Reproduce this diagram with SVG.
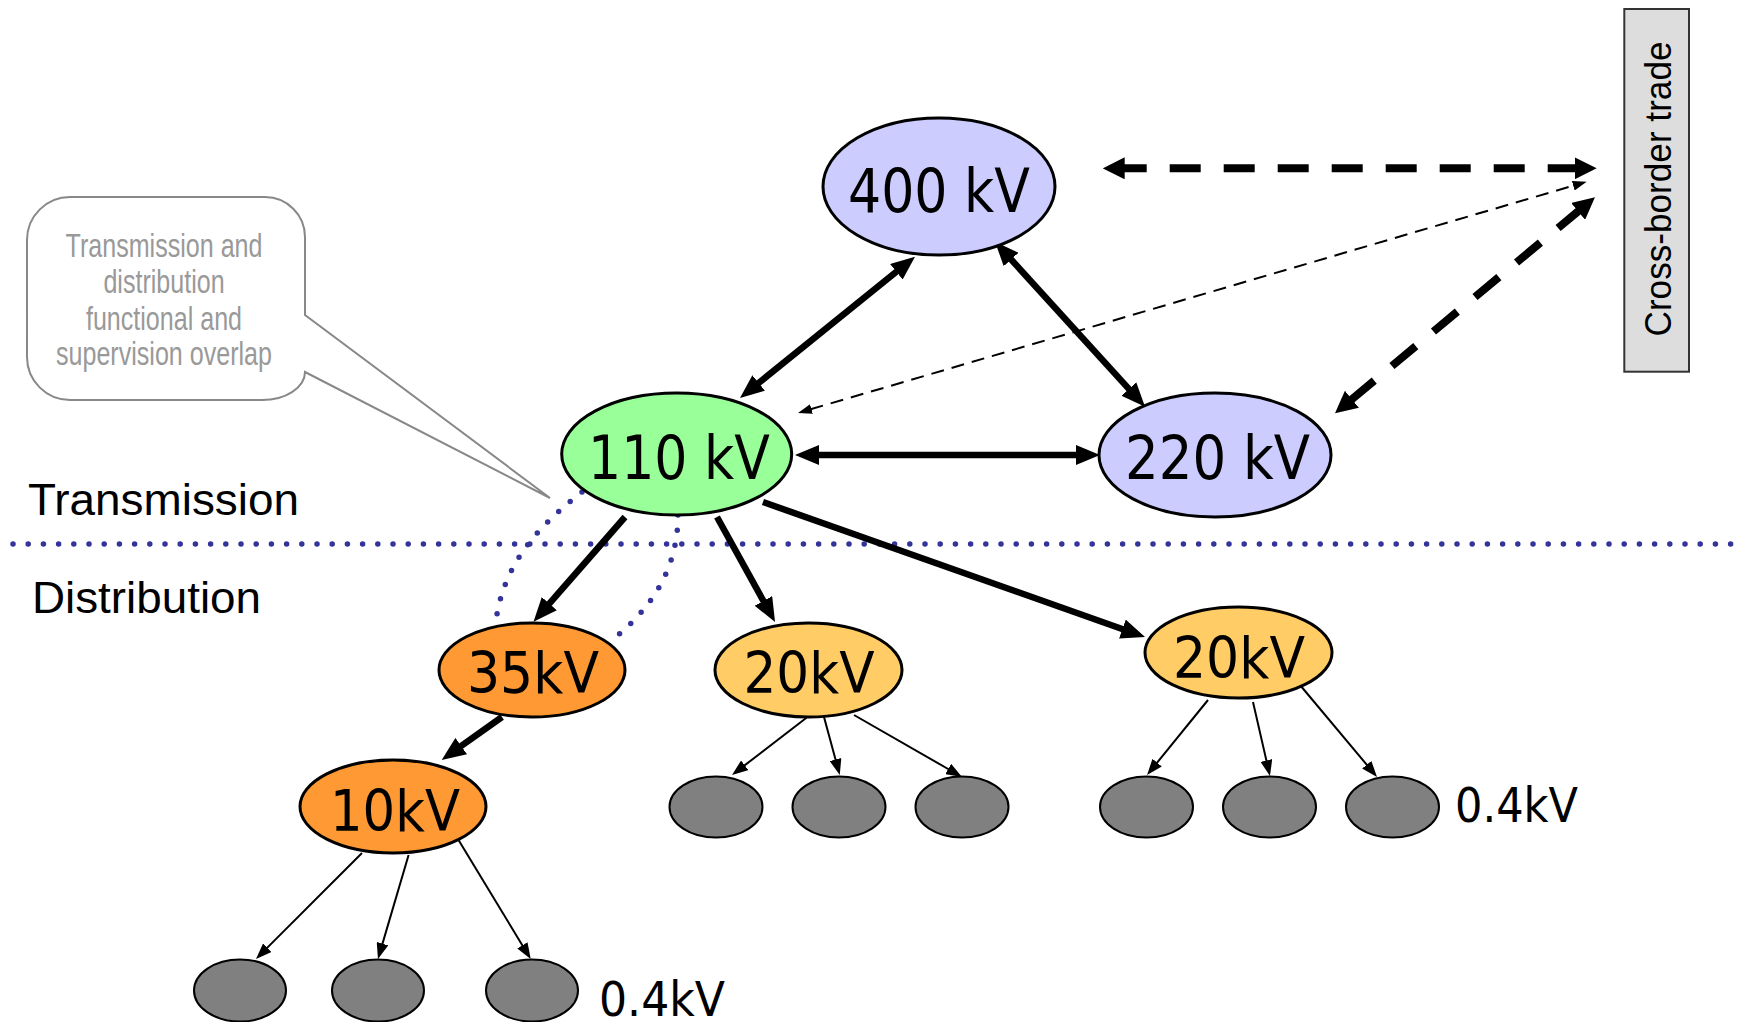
<svg xmlns="http://www.w3.org/2000/svg" width="1744" height="1022" viewBox="0 0 1744 1022">
<defs>
<style>
.lbl{font-family:"DejaVu Sans",Verdana,sans-serif;fill:#000}
.big{font-size:60px}
.mid{font-size:57px}
.sm{font-size:48px}
.sec{font-family:"Liberation Sans",Arial,sans-serif;font-size:45px;fill:#000}
.note{font-family:"Liberation Sans",Arial,sans-serif;font-size:33px;fill:#999999}
.hv{stroke:#000;stroke-width:3}
.leaf{fill:#808080;stroke:#000;stroke-width:2}
.thick{stroke:#000;stroke-width:6.5;fill:none}
.thin{stroke:#000;stroke-width:2;fill:none}
.dthick{stroke:#000;stroke-width:8;fill:none;stroke-dasharray:31 23}
.dthin{stroke:#000;stroke-width:2;fill:none;stroke-dasharray:13 8}
.dots{stroke:#333399;stroke-width:5.5;stroke-linecap:round;stroke-dasharray:0 15.2;fill:none}
</style>
<marker id="ah" markerUnits="userSpaceOnUse" markerWidth="24" markerHeight="20" refX="2" refY="10" orient="auto-start-reverse" viewBox="0 0 24 20"><path d="M0,0 L24,10 L0,20 z" fill="#000"/></marker>
<marker id="ahd" markerUnits="userSpaceOnUse" markerWidth="22" markerHeight="22" refX="2" refY="11" orient="auto-start-reverse" viewBox="0 0 22 22"><path d="M0,0 L22,11 L0,22 z" fill="#000"/></marker>
<marker id="ahs" markerUnits="userSpaceOnUse" markerWidth="16" markerHeight="12" refX="1" refY="6" orient="auto-start-reverse" viewBox="0 0 16 12"><path d="M0,0 L16,6 L0,12 z" fill="#000"/></marker>
<marker id="aht" markerUnits="userSpaceOnUse" markerWidth="14" markerHeight="10" refX="1" refY="5" orient="auto-start-reverse" viewBox="0 0 14 10"><path d="M0,0 L14,5 L0,10 z" fill="#000"/></marker>
</defs>
<rect width="1744" height="1022" fill="#fff"/>

<g id="boundary">
<line class="dots" x1="13" y1="544" x2="1744" y2="544"/>
<path class="dots" d="M582,492 C540,525 500,565 495,630"/>
<path class="dots" d="M678,515 C678,570 650,610 612,640"/>
<text class="sec" x="28" y="515" textLength="271" lengthAdjust="spacingAndGlyphs">Transmission</text>
<text class="sec" x="32" y="613" textLength="229" lengthAdjust="spacingAndGlyphs">Distribution</text>
</g>

<g id="callout">
<path d="M70,197 H265 A40,40 0 0 1 305,237 V315 L550,498 L305,372 A43,28 0 0 1 262,400 H70 A43,43 0 0 1 27,357 V240 A43,43 0 0 1 70,197 Z" fill="#fff" stroke="#888" stroke-width="2"/>
<g transform="translate(164,0) scale(0.76,1)">
<text class="note" x="0" y="257" text-anchor="middle">Transmission and</text>
<text class="note" x="0" y="293" text-anchor="middle">distribution</text>
<text class="note" x="0" y="330" text-anchor="middle">functional and</text>
<text class="note" x="0" y="365" text-anchor="middle">supervision overlap</text>
</g>
</g>

<g id="connectors">
<line class="thick" x1="757.1" y1="384.2" x2="897.9" y2="270.5" marker-start="url(#ah)" marker-end="url(#ah)"/>
<line class="thick" x1="1009.8" y1="258" x2="1130.2" y2="390.4" marker-start="url(#ah)" marker-end="url(#ah)"/>
<line class="thick" x1="817" y1="455" x2="1078" y2="455" marker-start="url(#ah)" marker-end="url(#ah)"/>
<line class="thick" x1="625" y1="517" x2="548" y2="605.1" marker-end="url(#ah)"/>
<line class="thick" x1="717" y1="517" x2="764.4" y2="602.7" marker-end="url(#ah)"/>
<line class="thick" x1="763" y1="502" x2="1124.3" y2="629.7" marker-end="url(#ah)"/>
<line class="thick" x1="502" y1="717" x2="459.6" y2="747.2" marker-end="url(#ah)"/>
<line class="dthin" x1="810.5" y1="409.3" x2="1574.2" y2="185.4" marker-start="url(#aht)" marker-end="url(#aht)"/>
<line class="dthick" x1="1122.7" y1="168.3" x2="1576.7" y2="168.3" stroke-dashoffset="7" marker-start="url(#ahd)" marker-end="url(#ahd)"/>
<line class="dthick" x1="1350.4" y1="400.5" x2="1579.6" y2="210.1" marker-start="url(#ahd)" marker-end="url(#ahd)"/>
<line class="thin" x1="806.5" y1="717.7" x2="743.9" y2="765.9" marker-end="url(#ahs)"/>
<line class="thin" x1="824" y1="717" x2="835.8" y2="760.5" marker-end="url(#ahs)"/>
<line class="thin" x1="854" y1="715" x2="949" y2="769.5" marker-end="url(#ahs)"/>
<line class="thin" x1="1208" y1="700" x2="1156.5" y2="763.4" marker-end="url(#ahs)"/>
<line class="thin" x1="1253" y1="702" x2="1266.6" y2="761.4" marker-end="url(#ahs)"/>
<line class="thin" x1="1300" y1="685" x2="1367.4" y2="765.5" marker-end="url(#ahs)"/>
<line class="thin" x1="362" y1="853" x2="266.6" y2="948.4" marker-end="url(#ahs)"/>
<line class="thin" x1="408.6" y1="855" x2="382.2" y2="944.6" marker-end="url(#ahs)"/>
<line class="thin" x1="456.7" y1="837" x2="522.9" y2="946.2" marker-end="url(#ahs)"/>
</g>

<g id="n400">
<ellipse class="hv" cx="939" cy="186.5" rx="116" ry="68.5" fill="#ccccff"/>
<text class="lbl big" x="848" y="212" textLength="182" lengthAdjust="spacingAndGlyphs">400 kV</text>
</g>
<g id="n110">
<ellipse class="hv" cx="676.7" cy="454" rx="115" ry="61" fill="#99ff99"/>
<text class="lbl big" x="588" y="479" textLength="182" lengthAdjust="spacingAndGlyphs">110 kV</text>
</g>
<g id="n220">
<ellipse class="hv" cx="1215" cy="455" rx="116" ry="62" fill="#ccccff"/>
<text class="lbl big" x="1125" y="479" textLength="185" lengthAdjust="spacingAndGlyphs">220 kV</text>
</g>
<g id="n35">
<ellipse class="hv" cx="532" cy="670" rx="93" ry="47" fill="#ff9933"/>
<text class="lbl mid" x="467" y="693" textLength="132" lengthAdjust="spacingAndGlyphs">35kV</text>
</g>
<g id="n20a">
<ellipse class="hv" cx="808.5" cy="670" rx="93.5" ry="47" fill="#ffcc66"/>
<text class="lbl mid" x="743.5" y="693" textLength="131" lengthAdjust="spacingAndGlyphs">20kV</text>
</g>
<g id="n20b">
<ellipse class="hv" cx="1238.5" cy="652.5" rx="93.5" ry="45.5" fill="#ffcc66"/>
<text class="lbl mid" x="1173" y="678" textLength="132" lengthAdjust="spacingAndGlyphs">20kV</text>
</g>
<g id="n10">
<ellipse class="hv" cx="393" cy="806.5" rx="93" ry="46.5" fill="#ff9933"/>
<text class="lbl mid" x="330" y="830.5" textLength="130" lengthAdjust="spacingAndGlyphs">10kV</text>
</g>

<g id="leaves20a">
<ellipse class="leaf" cx="716" cy="807" rx="46.5" ry="30.5"/>
<ellipse class="leaf" cx="839" cy="807" rx="46.5" ry="30.5"/>
<ellipse class="leaf" cx="962" cy="807" rx="46.5" ry="30.5"/>
</g>
<g id="leaves20b">
<ellipse class="leaf" cx="1146.5" cy="807" rx="46.5" ry="30.5"/>
<ellipse class="leaf" cx="1269.5" cy="807" rx="46.5" ry="30.5"/>
<ellipse class="leaf" cx="1392.5" cy="807" rx="46.5" ry="30.5"/>
<text class="lbl sm" x="1455" y="822" textLength="123" lengthAdjust="spacingAndGlyphs">0.4kV</text>
</g>
<g id="leaves10">
<ellipse class="leaf" cx="240" cy="990.5" rx="46" ry="31"/>
<ellipse class="leaf" cx="378" cy="990.5" rx="46" ry="31"/>
<ellipse class="leaf" cx="532" cy="990.5" rx="46" ry="31"/>
<text class="lbl sm" x="599" y="1016" textLength="126" lengthAdjust="spacingAndGlyphs">0.4kV</text>
</g>

<g id="crossborder">
<rect x="1624.3" y="9" width="64.7" height="362.7" fill="#dddddd" stroke="#333" stroke-width="2"/>
<text class="sec" style="font-size:36px" transform="translate(1671,189) rotate(-90)" x="0" y="0" text-anchor="middle" textLength="295" lengthAdjust="spacingAndGlyphs">Cross-border trade</text>
</g>
</svg>
